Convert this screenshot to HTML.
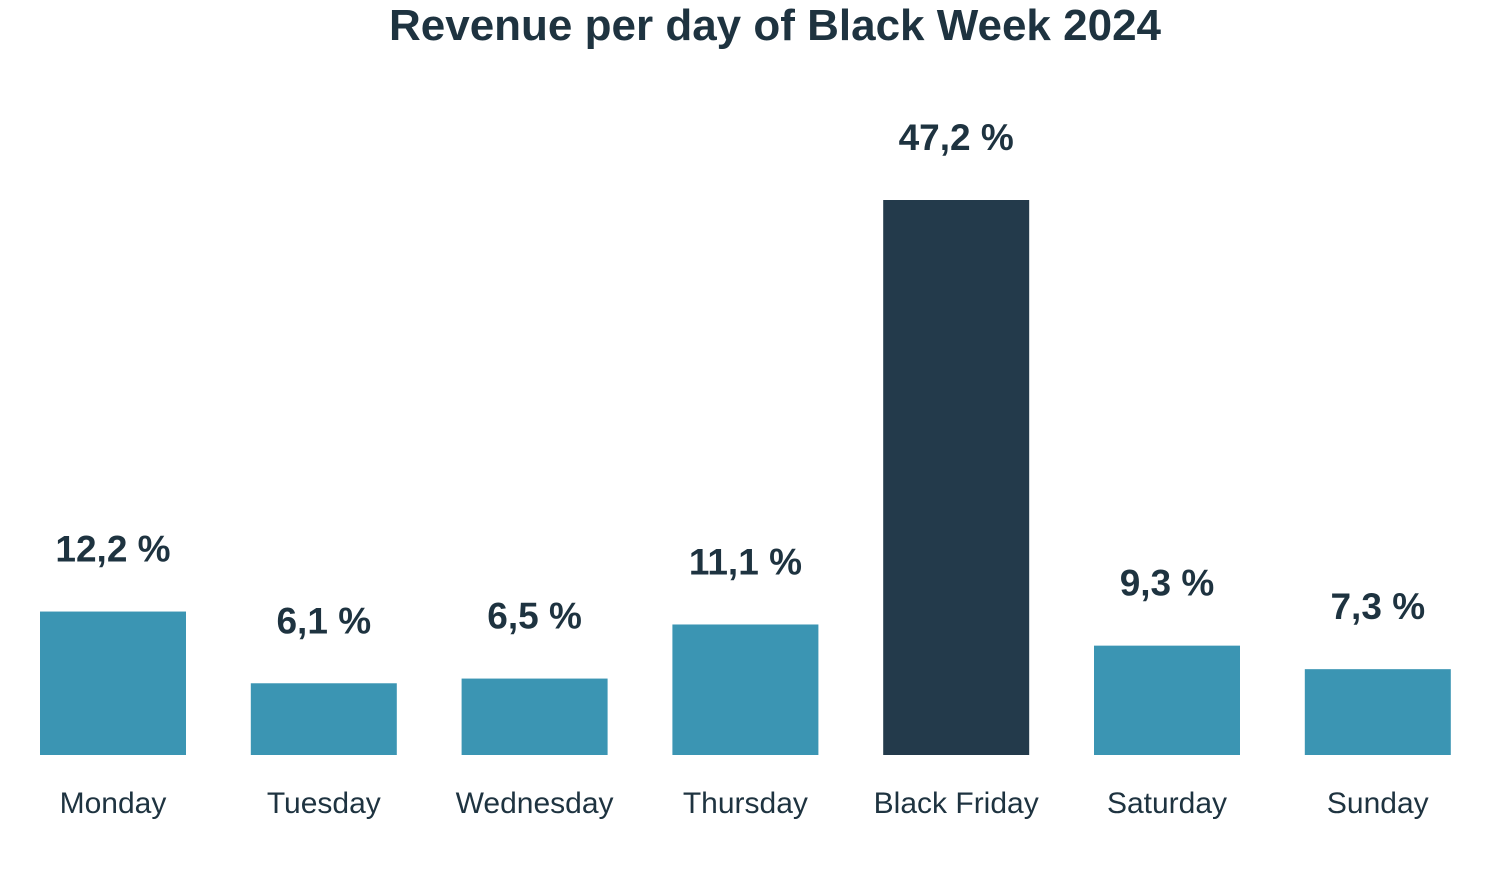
<!DOCTYPE html>
<html><head><meta charset="utf-8"><style>
html,body{margin:0;padding:0;background:#fff;}
body{width:1492px;height:867px;overflow:hidden;font-family:"Liberation Sans",sans-serif;}
</style></head><body>
<svg id="chart" width="1492" height="867" viewBox="0 0 1492 867" xmlns="http://www.w3.org/2000/svg">
<text x="775" y="40" text-anchor="middle" font-family="Liberation Sans, sans-serif" font-weight="bold" font-size="44" fill="#1e3340">Revenue per day of Black Week 2024</text>
<g id="bars"></g>
</svg>
<script>
const categories = ["Monday","Tuesday","Wednesday","Thursday","Black Friday","Saturday","Sunday"];
const values = [12.2, 6.1, 6.5, 11.1, 47.2, 9.3, 7.3];
const valueLabels = ["12,2 %","6,1 %","6,5 %","11,1 %","47,2 %","9,3 %","7,3 %"];
const highlight = ["Black Friday"];

const baseline = 755, maxH = 555, maxV = 47.2;
const x0 = 113, step = 210.8, barW = 146;
function xScale(i){ return x0 + i*step; }
function yScale(v){ return baseline - v/maxV*maxH; }

const g = document.getElementById('bars');
const NS = "http://www.w3.org/2000/svg";
categories.forEach((c,i)=>{
  const cx = xScale(i), top = yScale(values[i]);
  const r = document.createElementNS(NS,'rect');
  
  
  r.setAttribute('x', cx - barW/2);
  r.setAttribute('y', top);
  r.setAttribute('width', barW);
  r.setAttribute('height', baseline - top);
  r.setAttribute('fill', highlight.includes(c) ? '#233a4b' : '#3b95b3');
  g.appendChild(r);

  const vl = document.createElementNS(NS,'text');
  
  
  vl.setAttribute('x', cx);
  vl.setAttribute('y', top - 50);
  vl.setAttribute('text-anchor', 'middle');
  vl.setAttribute('font-family', 'Liberation Sans, sans-serif');
  vl.setAttribute('font-weight', 'bold');
  vl.setAttribute('font-size', '37');
  vl.setAttribute('fill', '#1e3340');
  vl.textContent = valueLabels[i];
  g.appendChild(vl);

  const cl = document.createElementNS(NS,'text');
  
  
  cl.setAttribute('x', cx);
  cl.setAttribute('y', 813);
  cl.setAttribute('text-anchor', 'middle');
  cl.setAttribute('font-family', 'Liberation Sans, sans-serif');
  cl.setAttribute('font-size', '30');
  cl.setAttribute('fill', '#1e3340');
  cl.textContent = c;
  g.appendChild(cl);
});
</script>
</body></html>
